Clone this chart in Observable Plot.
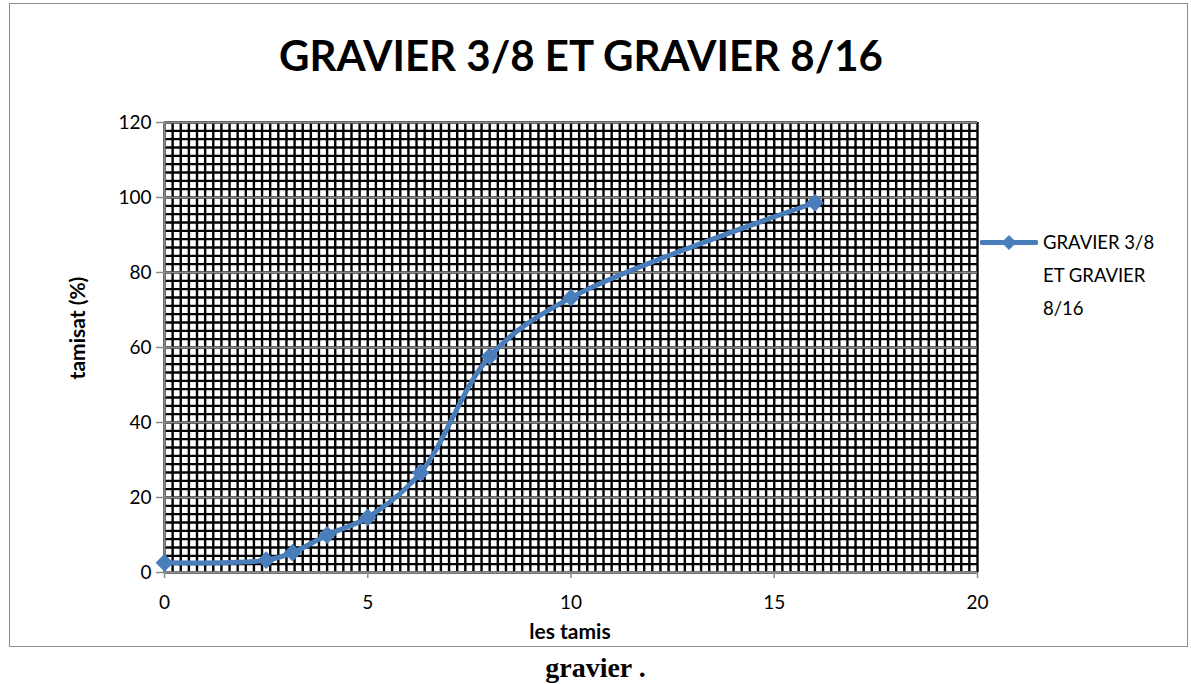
<!DOCTYPE html>
<html><head><meta charset="utf-8">
<script src="https://cdn.jsdelivr.net/npm/d3@7"></script>
<script src="https://cdn.jsdelivr.net/npm/@observablehq/plot@0.6"></script>
<style>
body{margin:0;background:#fff;font-family:Lato,"Open Sans",sans-serif;color:#000;}
#wrap{position:relative;width:1191px;height:684px;overflow:hidden;background:#fff;}
#frame{position:absolute;left:9px;top:3px;width:1179px;height:644px;border:1.5px solid #8c8c8c;box-sizing:border-box;}
#chart{position:absolute;left:0;top:0;}
#title{position:absolute;left:0;width:1162px;top:30px;text-align:center;font-weight:bold;font-size:42px;line-height:50px;}
#xlab{position:absolute;left:470px;width:200px;top:619px;text-align:center;font-weight:bold;font-size:21px;line-height:24px;}
#ylab{position:absolute;left:76px;top:328px;transform:translate(-50%,-50%) rotate(-90deg);font-weight:bold;font-size:21px;white-space:nowrap;}
#legend{position:absolute;left:980px;top:226px;display:flex;align-items:flex-start;}
#legend .txt{width:128px;font-size:18.5px;line-height:33px;margin-left:5px;}
#caption{position:absolute;left:0;width:1191px;top:652px;text-align:center;font-family:"Liberation Serif","DejaVu Serif",serif;font-weight:bold;font-size:28px;line-height:32px;}
</style>
</head><body>
<div id="wrap">
  <div id="frame"></div>
  <div id="chart"></div>
  <div id="title"></div>
  <div id="xlab"></div>
  <div id="ylab"></div>
  <div id="legend"></div>
  <div id="caption"></div>
</div>
<script>
// ---- data ----
const chartTitle = "GRAVIER 3/8 ET GRAVIER 8/16";
const seriesName = "GRAVIER 3/8 ET GRAVIER 8/16";
const xTitle = "les tamis";
const yTitle = "tamisat (%)";
const captionText = "gravier .";
const sieves  = [0, 2.5, 3.15, 4, 5, 6.3, 8, 10, 16];
const passing = [2.6, 3.3, 5.3, 10, 14.7, 26.6, 57.6, 73.3, 98.6];
const xTicks = [0, 5, 10, 15, 20];
const yTicks = [0, 20, 40, 60, 80, 100, 120];

const color = "#4A7EBB";
const data = sieves.map((s, i) => ({x: s, y: passing[i]}));

// dense pattern grid of the plot area (style only)
const patX = d3.range(0, 20.0001, 0.2);
const patY = d3.range(0, 120.0001, 20 / 9);

const chart = Plot.plot({
  width: 1191, height: 684,
  marginLeft: 164, marginRight: 214, marginTop: 122, marginBottom: 112,
  x: {domain: [0, 20]},
  y: {domain: [0, 120]},
  style: {fontFamily: "Lato, 'Open Sans', sans-serif", fontSize: "19px", color: "#000", background: "transparent"},
  marks: [
    Plot.ruleX(patX, {stroke: "#000", strokeWidth: 2.4}),
    Plot.ruleY(patY, {stroke: "#000", strokeWidth: 2.4}),
    Plot.ruleY(yTicks, {stroke: "#8c8c8c", strokeWidth: 2}),
    Plot.axisY({ticks: yTicks, tickSize: 8, tickPadding: 5, label: null, stroke: "#8c8c8c", strokeWidth: 1.5}),
    Plot.axisX({ticks: xTicks, tickSize: 6, tickPadding: 17, label: null, stroke: "#8c8c8c", strokeWidth: 1.5}),
    Plot.ruleX([0], {stroke: "#8c8c8c", strokeWidth: 2}),
    Plot.ruleY([0], {stroke: "#8c8c8c", strokeWidth: 2}),
    Plot.line(data, {x: "x", y: "y", curve: "catmull-rom", stroke: color, strokeWidth: 5}),
    Plot.dot(data, {x: "x", y: "y", symbol: "diamond2", r: 8, fill: color, stroke: "none"})
  ]
});
document.getElementById("chart").appendChild(chart);

document.getElementById("title").textContent = chartTitle;
document.getElementById("xlab").textContent = xTitle;
document.getElementById("ylab").textContent = yTitle;
document.getElementById("caption").textContent = captionText;

const leg = document.getElementById("legend");
leg.innerHTML = `<svg width="58" height="33"><line x1="2" x2="56" y1="16.5" y2="16.5" stroke="${color}" stroke-width="5" stroke-linecap="round"/><path d="M29,9 L36.5,16.5 L29,24 L21.5,16.5 Z" fill="${color}"/></svg><div class="txt"></div>`;
leg.querySelector(".txt").textContent = seriesName;
</script>
</body></html>
